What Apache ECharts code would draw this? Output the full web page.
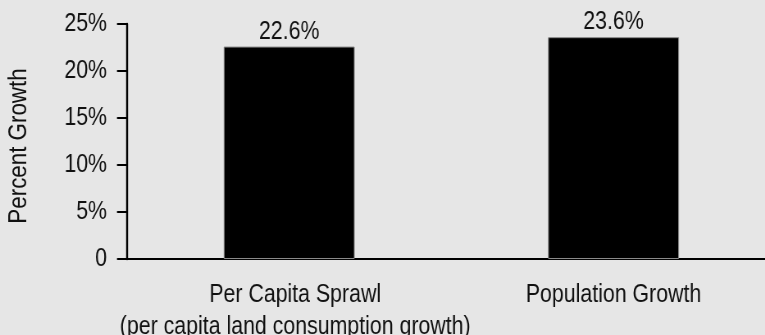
<!DOCTYPE html>
<html>
<head>
<meta charset="utf-8">
<script src="https://cdn.jsdelivr.net/npm/echarts@6/dist/echarts.min.js"></script>
<style>
  html, body { margin: 0; padding: 0; background: #e6e6e6; overflow: hidden; }
  #frame { width: 765px; height: 335px; overflow: hidden; position: relative; }
  /* the chart is laid out wider and squeezed horizontally for a condensed type look;
     its right end runs past the frame, so the category axis continues to the edge */
  #chart { width: 946px; height: 335px; transform: scaleX(0.82); transform-origin: 0 0; position: absolute; left: 0; top: 0; }
</style>
</head>
<body>
<div id="frame"><div id="chart"></div></div>
<script>
// Growth comparison: per capita sprawl vs population growth
const categories = [
  'Per Capita Sprawl\n(per capita land consumption growth)',
  'Population Growth'
];
const growthValues = [22.6, 23.6];
const yTicks = [0, 5, 10, 15, 20, 25];
const yTitle = 'Percent Growth';

const SX = 0.82; // horizontal squeeze applied to the chart canvas
const px = v => v / SX; // horizontal size on screen -> size in layout space

const FONT = "'Liberation Sans', Arial, sans-serif";

const chart = echarts.init(document.getElementById('chart'), null, { renderer: 'canvas' });

chart.setOption({
  backgroundColor: '#e6e6e6',
  animation: false,
  grid: { left: px(127), right: 0, top: 24, bottom: 76, outerBoundsMode: 'none' },
  // vertical axis title, condensed along its reading direction
  graphic: [{
    type: 'text',
    x: px(19),
    y: 146,
    rotation: Math.PI / 2,
    scaleX: 0.86,
    scaleY: 1 / SX,
    silent: true,
    style: {
      text: yTitle,
      fill: '#111',
      font: '26px ' + FONT,
      align: 'center',
      verticalAlign: 'middle'
    }
  }],
  xAxis: {
    type: 'category',
    data: categories,
    axisLine: { lineStyle: { color: '#000', width: 2 } },
    axisTick: { show: false },
    axisLabel: {
      color: '#111',
      fontFamily: FONT,
      fontSize: 26,
      lineHeight: 32,
      margin: 20,
      interval: 0,
      formatter: (value, idx) => value.split('\n')
        .map(line => '{' + (idx === 0 ? 'first' : 'other') + '|' + line + '}')
        .join('\n'),
      rich: {
        first: { fontFamily: FONT, fontSize: 26, lineHeight: 32, color: '#111', padding: [0, 0, 0, px(12)] },
        other: { fontFamily: FONT, fontSize: 26, lineHeight: 32, color: '#111' }
      }
    }
  },
  yAxis: {
    type: 'value',
    min: yTicks[0],
    max: yTicks[yTicks.length - 1],
    interval: 5,
    axisLine: { show: true, lineStyle: { color: '#000', width: 2.4 } },
    axisTick: { show: true, length: px(10), lineStyle: { color: '#000', width: 2 } },
    splitLine: { show: false },
    axisLabel: {
      color: '#111',
      fontFamily: FONT,
      fontSize: 26,
      margin: px(20),
      formatter: v => (v === 0 ? '0' : v + '%')
    }
  },
  series: [{
    type: 'bar',
    data: growthValues,
    barWidth: px(131),
    itemStyle: { color: '#000', borderColor: '#8a8a8a', borderWidth: 1 },
    label: {
      show: true,
      position: 'top',
      distance: 2,
      color: '#111',
      fontFamily: FONT,
      fontSize: 26,
      formatter: p => p.value.toFixed(1) + '%'
    }
  }]
});
</script>
</body>
</html>
